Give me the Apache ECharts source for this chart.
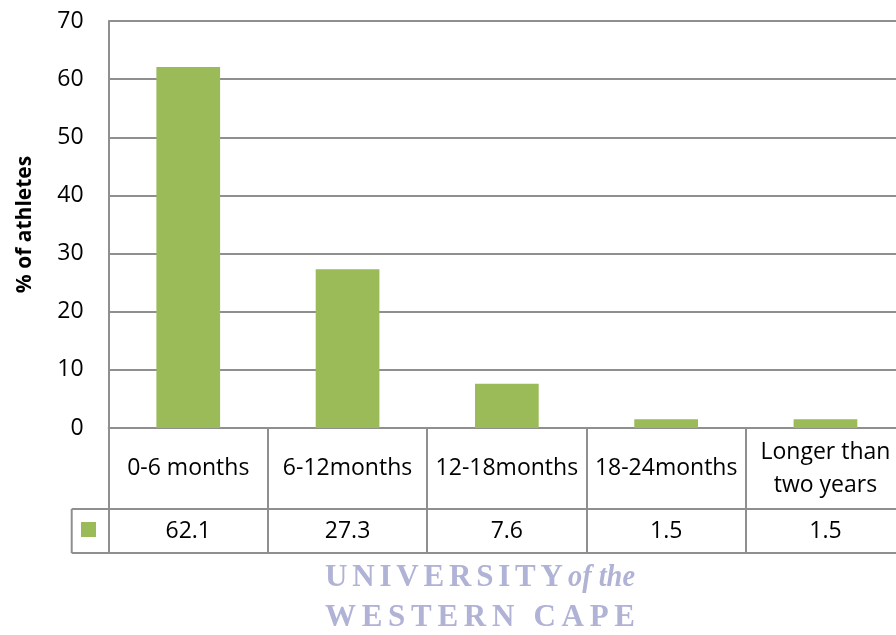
<!DOCTYPE html>
<html>
<head>
<meta charset="utf-8">
<script src="https://cdn.jsdelivr.net/npm/echarts@6/dist/echarts.min.js"></script>
<style>
  html, body { margin: 0; padding: 0; background: #ffffff; }
  #chart { width: 896px; height: 635px; }
</style>
</head>
<body>
<div id="chart"></div>
<script>
// Time taken to return to sport: share of athletes per period
const categories = ['0-6 months', '6-12months', '12-18months', '18-24months', 'Longer than\ntwo years'];
const athletesPct = [62.1, 27.3, 7.6, 1.5, 1.5];
const valueLabels = athletesPct.map(v => v.toFixed(1));
const yMin = 0;
const yMax = 70;
const yStep = 10;
const yTitle = '% of athletes';
const watermarkTop = 'UNIVERSITY';
const watermarkTopItalic = 'of the';
const watermarkBottom = 'WESTERN CAPE';

// Layout
const FONT = '"Open Sans", sans-serif';
const SERIF = '"Liberation Serif", "DejaVu Serif", serif';
const GRID = { left: 108.6, top: 21, width: 796.5, height: 407 };
const ROW1 = 81;      // category label row of the data table
const ROW2 = 44;      // value row of the data table
const KEY_LEFT = 71.7;
const LINE = '#8f8f8f';
const BAR = '#9bbb59';
const WM = '#b0b2d6';
const LABEL_SIZE = 23;

const axisY = GRID.top + GRID.height;
const row2Top = axisY + ROW1;
const row2Bottom = row2Top + ROW2;
const gridRight = GRID.left + GRID.width;

function textWidth(str, font) {
  const ctx = document.createElement('canvas').getContext('2d');
  ctx.font = font;
  return ctx.measureText(str).width;
}

// Letter-spaced rich text: one token per character; every character but the
// last carries right padding equal to the letter gap
function spaced(str) {
  const chars = str.split('');
  return chars.map((ch, i) => '{' + (i < chars.length - 1 ? 'n' : 'e') + '|' + ch + '}').join('');
}
function gapFor(str, font, targetWidth) {
  return (targetWidth - textWidth(str, font)) / (str.length - 1);
}

const WM_LEFT = 325;
const wmSize = 31;
const wmFont = 'bold ' + wmSize + 'px ' + SERIF;
const italicFont = 'italic bold ' + wmSize + 'px ' + SERIF;
const topGap = gapFor(watermarkTop, wmFont, 238);
const bottomGap = gapFor(watermarkBottom, wmFont, 310);
const italicScale = 67 / textWidth(watermarkTopItalic, italicFont);

function wmRich(gap) {
  const base = { fontFamily: SERIF, fontSize: wmSize, fontWeight: 'bold', fill: WM };
  return { n: Object.assign({ padding: [0, gap, 0, 0] }, base), e: base };
}

const chart = echarts.init(document.getElementById('chart'), null, { renderer: 'canvas' });

chart.setOption({
  animation: false,
  backgroundColor: '#ffffff',
  grid: {
    left: GRID.left, top: GRID.top, width: GRID.width, height: GRID.height,
    outerBoundsMode: 'none', containLabel: false
  },
  xAxis: [
    {
      type: 'category',
      data: categories,
      position: 'bottom',
      axisLine: { show: true, lineStyle: { color: LINE, width: 2 } },
      axisTick: { show: true, inside: false, length: ROW1 + ROW2, lineStyle: { color: LINE, width: 2 } },
      axisLabel: {
        show: true, interval: 0, margin: ROW1 / 2, verticalAlign: 'middle',
        color: '#000', fontFamily: FONT, fontSize: LABEL_SIZE, lineHeight: 33, align: 'center'
      },
      splitLine: { show: false }
    },
    {
      type: 'category',
      data: valueLabels,
      position: 'bottom',
      offset: ROW1,
      axisLine: { show: true, lineStyle: { color: LINE, width: 2 } },
      axisTick: { show: false },
      axisLabel: {
        show: true, interval: 0, margin: ROW2 / 2, verticalAlign: 'middle',
        color: '#000', fontFamily: FONT, fontSize: LABEL_SIZE
      },
      splitLine: { show: false }
    }
  ],
  yAxis: {
    type: 'value',
    min: yMin, max: yMax, interval: yStep,
    name: yTitle,
    nameLocation: 'middle',
    nameRotate: 90,
    nameGap: 73,
    nameTextStyle: { color: '#000', fontFamily: FONT, fontSize: 21, fontWeight: 'bold' },
    axisLine: { show: true, lineStyle: { color: LINE, width: 2 } },
    axisTick: { show: false },
    axisLabel: { color: '#000', fontFamily: FONT, fontSize: LABEL_SIZE, margin: 25 },
    splitLine: { show: true, lineStyle: { color: LINE, width: 2 } }
  },
  series: [{
    type: 'bar',
    data: athletesPct,
    xAxisIndex: 0,
    barCategoryGap: '60%',
    itemStyle: { color: BAR },
    silent: true
  }],
  graphic: [
    // legend key cell of the value row
    { type: 'line', shape: { x1: KEY_LEFT, y1: row2Top, x2: GRID.left, y2: row2Top }, style: { stroke: LINE, lineWidth: 2 } },
    { type: 'line', shape: { x1: KEY_LEFT, y1: row2Bottom, x2: gridRight, y2: row2Bottom }, style: { stroke: LINE, lineWidth: 2 } },
    { type: 'line', shape: { x1: KEY_LEFT, y1: row2Top, x2: KEY_LEFT, y2: row2Bottom }, style: { stroke: LINE, lineWidth: 2 } },
    { type: 'rect', shape: { x: 81, y: 522, width: 15, height: 15 }, style: { fill: BAR } },
    // watermark
    {
      type: 'text', x: WM_LEFT, y: 578, z: 10,
      style: { text: spaced(watermarkTop), verticalAlign: 'middle', align: 'left', rich: wmRich(topGap) }
    },
    {
      type: 'text', x: 568, y: 578, z: 10, scaleX: italicScale,
      style: {
        text: watermarkTopItalic, fontFamily: SERIF, fontSize: wmSize, fontStyle: 'italic', fontWeight: 'bold',
        fill: WM, verticalAlign: 'middle', align: 'left'
      }
    },
    {
      type: 'text', x: WM_LEFT, y: 618, z: 10,
      style: { text: spaced(watermarkBottom), verticalAlign: 'middle', align: 'left', rich: wmRich(bottomGap) }
    }
  ]
});
</script>
</body>
</html>
